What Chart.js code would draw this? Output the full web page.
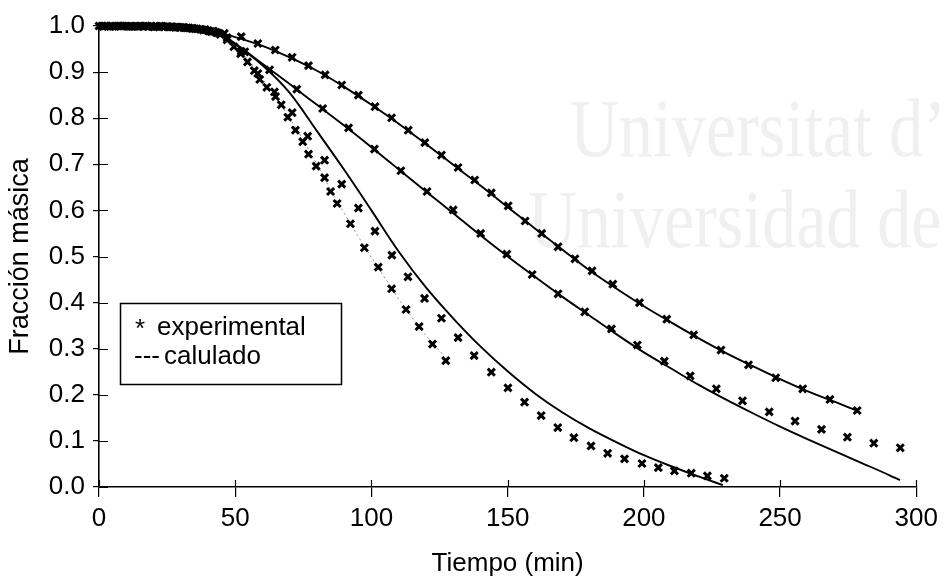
<!DOCTYPE html>
<html>
<head>
<meta charset="utf-8">
<script src="https://cdn.jsdelivr.net/npm/chart.js@4.4.0/dist/chart.umd.min.js"></script>
<style>
  html, body { margin: 0; padding: 0; background: #fff; }
  #wrap { width: 944px; height: 579px; position: relative; }
</style>
</head>
<body>
<div id="wrap"><canvas id="c" width="944" height="579"></canvas></div>
<script>
// ---------- data ----------
const xTicks = [0, 50, 100, 150, 200, 250, 300];
const yTickLabels = ['0.0','0.1','0.2','0.3','0.4','0.5','0.6','0.7','0.8','0.9','1.0'];

// experimental series A (slowest)
const timeA = [0,3,6,9,12,15,18,21,24,27,30,33,36,39,42,46,
  52.2,58.3,64.7,70.9,76.9,83,89.1,95.2,101.3,107.4,113.5,119.6,125.7,131.8,137.9,144,
  150.2,156.4,162.5,168.5,174.7,181,188.6,198.4,208.4,218.3,228.3,238.4,248.4,258.3,268.3,278.3];
const fracA = [1.000,1.000,0.999,1.000,0.999,1.000,0.999,0.999,0.998,0.998,0.997,0.996,0.994,0.992,0.989,0.984,
  0.977,0.962,0.948,0.932,0.914,0.894,0.872,0.850,0.825,0.801,0.774,0.747,0.720,0.693,0.666,0.638,
  0.610,0.577,0.550,0.521,0.495,0.469,0.440,0.400,0.364,0.330,0.297,0.265,0.237,0.213,0.190,0.166];

// experimental series B
const timeB = [1,4,7,10,13,16,19,22,25,28,31,34,37,40,43,
  53.5,62.6,72.6,82.1,91.6,101.1,110.8,120.4,130,140.1,149.7,159,168.5,178.3,188.1,197.6,
  207.5,217,226.6,236.2,246,255.5,265.2,274.7,284.4,294.1];
const fracB = [1.000,0.999,1.000,1.000,0.999,0.999,1.000,0.998,0.999,0.997,0.997,0.995,0.993,0.990,0.986,
  0.944,0.905,0.863,0.821,0.779,0.733,0.686,0.641,0.601,0.550,0.505,0.461,0.419,0.380,0.343,0.308,
  0.273,0.241,0.213,0.187,0.163,0.143,0.125,0.108,0.095,0.085];

// experimental series C
const timeC = [1.5,4.5,7.5,10.5,13.5,16.5,19.5,22.5,25.5,28.5,31.5,34.5,37.5,40.5,43.5,
  47,52.2,58.3,64.4,70.9,76.6,82.8,89.1,95.2,101.3,107.5,113.4,119.5,125.7,131.8,137.7,144,
  150.1,156.2,162.3,168.4,174.3,180.6,186.7,192.9,199.3,205.3,211.2,217.4,223.3,229.5];
const fracC = [0.999,1.000,1.000,0.999,1.000,0.999,0.999,1.000,0.998,0.998,0.996,0.995,0.993,0.989,0.985,
  0.975,0.945,0.897,0.857,0.812,0.761,0.709,0.657,0.605,0.555,0.503,0.456,0.409,0.366,0.324,0.285,0.249,
  0.215,0.184,0.155,0.129,0.107,0.089,0.073,0.061,0.051,0.042,0.035,0.030,0.024,0.019];

// experimental series D (fastest)
const timeD = [2.25,5.25,8.25,11.25,14.25,17.25,20.25,23.25,26.25,29.25,32.25,35.25,38.25,41.25,
  44.5,47,49.5,52,54.5,57,59,61.6,64.8,66.9,69.3,72.1,74.8,76.9,79.7,82.8,85,87.4,
  92.3,97.4,102.5,107.4,112.7,117.5,122.4,127.3];
const fracD = [1.000,0.999,1.000,0.999,0.999,1.000,0.998,0.999,0.998,0.997,0.996,0.994,0.991,0.988,
  0.982,0.970,0.955,0.940,0.922,0.903,0.884,0.867,0.847,0.829,0.802,0.774,0.749,0.722,0.696,0.671,0.641,0.615,
  0.571,0.519,0.477,0.430,0.385,0.348,0.310,0.274];

// calculated curves
const calcTimeA = [0,10,20,30,40,45,50,60,70,80,90,100,110,120,130,140,150,160,170,180,190,200,210,220,230,240,250,260,270,278];
const calcA = [1.000,1.000,0.999,0.997,0.990,0.984,0.976,0.957,0.932,0.903,0.868,0.829,0.788,0.744,0.699,0.654,0.607,0.561,0.515,0.470,0.430,0.392,0.357,0.323,0.291,0.262,0.234,0.208,0.185,0.166];

const calcTimeB = [0,10,20,30,40,45,50,60,70,80,90,100,110,120,130,140,150,160,170,180,190,200,210,220,230,240,250,260,270,280,290,294];
const calcB = [1.000,1.000,0.999,0.997,0.990,0.980,0.962,0.918,0.874,0.829,0.784,0.737,0.689,0.641,0.594,0.546,0.500,0.456,0.413,0.372,0.331,0.292,0.257,0.222,0.190,0.160,0.131,0.104,0.078,0.052,0.026,0.015];

const calcTimeC = [0,10,20,30,40,45,50,60,70,80,90,100,110,120,130,140,150,160,170,180,190,200,210,220,229];
const calcC = [1.000,1.000,0.999,0.997,0.990,0.978,0.960,0.915,0.855,0.772,0.688,0.600,0.511,0.433,0.366,0.305,0.251,0.203,0.162,0.127,0.097,0.069,0.045,0.023,0.004];

const calcTimeD = [0,10,20,30,40,45,50,55,60,65,70,75,80,85,90,95,100,105,110,115,120,126];
const calcD = [1.000,1.000,0.999,0.997,0.988,0.975,0.955,0.925,0.885,0.846,0.800,0.752,0.700,0.645,0.594,0.545,0.498,0.453,0.408,0.367,0.329,0.289];

// ---------- helpers ----------
const FONT = '"Liberation Sans", Arial, Helvetica, sans-serif';
const pairs = (xs, ys) => xs.map((x, i) => ({ x: x, y: ys[i] }));

function expSet(label, xs, ys) {
  return {
    label: label, data: pairs(xs, ys), showLine: false,
    pointStyle: 'crossRot', pointRadius: 5, pointHoverRadius: 5, pointBorderWidth: 3,
    borderColor: '#000', backgroundColor: '#000', clip: false, order: 1
  };
}
function calcSet(label, xs, ys, dotted) {
  return {
    label: label, data: pairs(xs, ys), showLine: true, pointRadius: 0,
    borderColor: dotted ? '#8a8a8a' : '#000',
    borderWidth: dotted ? 1 : 1.9,
    borderDash: dotted ? [2, 3] : [],
    tension: 0.35, cubicInterpolationMode: 'monotone', fill: false, clip: false, order: 2
  };
}

// ---------- plugins ----------
const watermark = {
  id: 'watermark',
  beforeDatasetsDraw(chart) {
    const ctx = chart.ctx;
    ctx.save();
    ctx.fillStyle = '#f0f0f0';
    ctx.font = '68px "Liberation Serif", "Times New Roman", serif';
    ctx.textBaseline = 'alphabetic';
    ctx.translate(570, 156); ctx.scale(1, 1.22);
    ctx.fillText('Universitat d\u2019A', 0, 0);
    ctx.restore();
    ctx.save();
    ctx.fillStyle = '#f0f0f0';
    ctx.font = '68px "Liberation Serif", "Times New Roman", serif';
    ctx.translate(528, 247); ctx.scale(1, 1.22);
    ctx.fillText('Universidad de', 0, 0);
    ctx.restore();
  }
};

const innerTicks = {
  id: 'innerTicks',
  afterDraw(chart) {
    const ctx = chart.ctx, xs = chart.scales.x, ys = chart.scales.y;
    const a = chart.chartArea;
    ctx.save();
    ctx.strokeStyle = '#000';
    ctx.lineWidth = 1.2;
    ctx.beginPath();
    xs.ticks.forEach(t => {
      const p = Math.round(xs.getPixelForValue(t.value)) + 0.5;
      ctx.moveTo(p, a.bottom); ctx.lineTo(p, a.bottom - 7);
    });
    ys.ticks.forEach(t => {
      const p = Math.round(ys.getPixelForValue(t.value)) + 0.5;
      ctx.moveTo(a.left, p); ctx.lineTo(a.left + 9, p);
    });
    ctx.stroke();
    ctx.restore();
  }
};

const boxLegend = {
  id: 'boxLegend',
  afterDraw(chart) {
    const ctx = chart.ctx;
    ctx.save();
    ctx.strokeStyle = '#000';
    ctx.lineWidth = 1.5;
    ctx.strokeRect(120.5, 303.5, 221, 81);
    ctx.fillStyle = '#000';
    ctx.font = '26px ' + FONT;
    ctx.textBaseline = 'alphabetic';
    ctx.fillText('*', 135, 337);
    ctx.fillText('experimental', 157, 335);
    ctx.fillText('---', 134, 364);
    ctx.fillText('calulado', 164, 364);
    ctx.restore();
  }
};

// ---------- chart ----------
Chart.defaults.font.family = FONT;
Chart.defaults.font.size = 26;
Chart.defaults.color = '#000';

new Chart(document.getElementById('c'), {
  type: 'scatter',
  data: {
    datasets: [
      calcSet('calc A', calcTimeA, calcA, false),
      calcSet('calc B', calcTimeB, calcB, false),
      calcSet('calc C', calcTimeC, calcC, false),
      calcSet('calc D', calcTimeD, calcD, true),
      expSet('exp A', timeA, fracA),
      expSet('exp B', timeB, fracB),
      expSet('exp C', timeC, fracC),
      expSet('exp D', timeD, fracD)
    ]
  },
  options: {
    responsive: false,
    animation: false,
    events: [],
    layout: { padding: { top: 26, right: 26, left: 0, bottom: 0 } },
    plugins: { legend: { display: false }, tooltip: { enabled: false } },
    scales: {
      x: {
        type: 'linear', min: 0, max: 300,
        afterBuildTicks(s) { s.ticks = xTicks.map(v => ({ value: v })); },
        afterFit(s) { s.height = 92; },
        ticks: { padding: 6, font: { size: 26 }, callback: v => String(v), maxRotation: 0, autoSkip: false },
        grid: { drawOnChartArea: false, drawTicks: true, tickLength: 10, color: '#000', lineWidth: 1.2 },
        border: { display: true, color: '#000', width: 1.6 },
        title: { display: true, text: 'Tiempo (min)', font: { size: 26 }, padding: { top: 0, bottom: 0 } }
      },
      y: {
        type: 'linear', min: 0, max: 1,
        afterBuildTicks(s) { s.ticks = yTickLabels.map((l, i) => ({ value: i / 10 })); },
        afterFit(s) { s.width = 99; },
        ticks: { padding: 8, font: { size: 26 }, callback: (v, i) => yTickLabels[i], autoSkip: false },
        grid: { drawOnChartArea: false, drawTicks: true, tickLength: 6, color: '#000', lineWidth: 1.2 },
        border: { display: true, color: '#000', width: 1.6 },
        title: { display: true, text: 'Fracción másica', font: { size: 27 }, padding: { top: 4, bottom: 0 } }
      }
    }
  },
  plugins: [watermark, innerTicks, boxLegend]
});
</script>
</body>
</html>
